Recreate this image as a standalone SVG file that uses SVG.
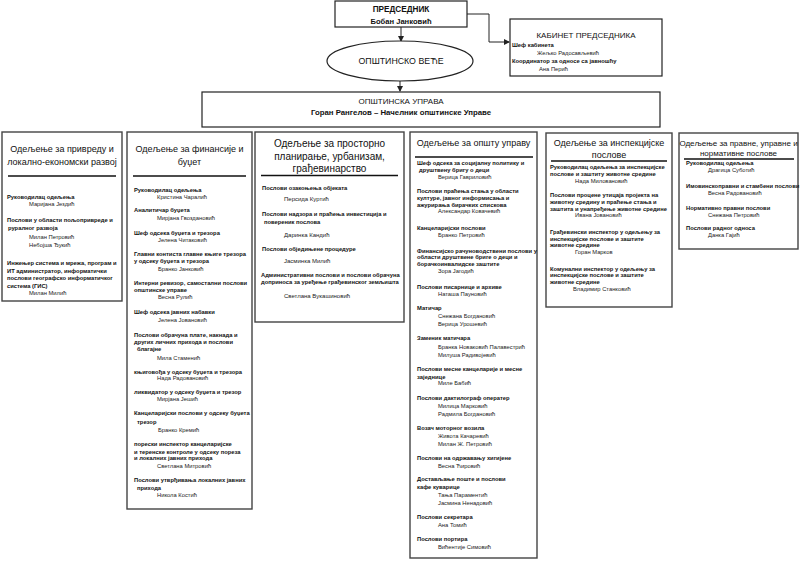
<svg xmlns="http://www.w3.org/2000/svg" width="800" height="561" viewBox="0 0 800 561">
<style>
text{font-family:"Liberation Sans",Arial,sans-serif;fill:#111}
.box{fill:#fff;stroke:#222;stroke-width:1.2}
.dept{fill:#fff;stroke:#444;stroke-width:1.4}
.sep{stroke:#111;stroke-width:1.5}
.t{font-size:9px;text-anchor:middle}
.t3{font-size:10px;text-anchor:middle}
.t6{font-size:8px;text-anchor:middle}
.b{font-size:5.8px;font-weight:bold}
.b6{font-size:5.8px;font-weight:bold}
.n{font-size:5.8px;fill:#222}
.n6{font-size:6px;fill:#222}
.conn{fill:none;stroke:#222;stroke-width:1}
</style>
<defs>
<marker id="arr" markerWidth="6" markerHeight="6" refX="5" refY="3" orient="auto" markerUnits="userSpaceOnUse">
<path d="M0,0 L6,3 L0,6 Z" fill="#222"/>
</marker>
</defs>
<rect width="800" height="561" fill="#fff"/>

<g id="connectors">
<line class="conn" x1="401" y1="27" x2="401" y2="41" marker-end="url(#arr)"/>
<polyline class="conn" points="467,14 489,14 489,42 509,42" marker-end="url(#arr)"/>
<line class="conn" x1="400" y1="81" x2="400" y2="91" marker-end="url(#arr)"/>
</g>

<g id="predsednik">
<rect class="box" x="335" y="1" width="132" height="26"/>
<text x="401" y="12" style="font-size:8.2px;font-weight:bold;text-anchor:middle">ПРЕДСЕДНИК</text>
<text x="401" y="24" style="font-size:7.6px;font-weight:bold;text-anchor:middle">Бобан Јанковић</text>
</g>

<g id="kabinet">
<rect class="box" x="510" y="19" width="152" height="57"/>
<text x="586" y="38" style="font-size:8px;text-anchor:middle">КАБИНЕТ ПРЕДСЕДНИКА</text>
<text class="b" x="512" y="47">Шеф кабинета</text>
<text class="n" x="537" y="55">Жељко Радосављевић</text>
<text class="b" x="512" y="63">Координатор за односе са јавношћу</text>
<text class="n" x="539" y="71">Ана Перић</text>
</g>

<g id="vece">
<ellipse cx="400" cy="61" rx="73" ry="20" fill="#fff" stroke="#222" stroke-width="1.2"/>
<text x="401" y="64" style="font-size:8.8px;text-anchor:middle">ОПШТИНСКО  ВЕЋЕ</text>
</g>

<g id="uprava">
<rect class="box" x="202" y="92" width="458" height="35"/>
<text x="401" y="104" style="font-size:8px;text-anchor:middle">ОПШТИНСКА УПРАВА</text>
<text x="401" y="115" style="font-size:7.8px;font-weight:bold;text-anchor:middle">Горан Рангелов – Начелник општинске Управе</text>
</g>

<g id="dept-privreda">
<rect class="dept" x="2" y="132" width="120" height="169"/>
<text class="t" x="62" y="152">Одељење за привреду и</text>
<text class="t" x="62" y="165">локално-економски развој</text>
<line class="sep" x1="8" y1="176" x2="116" y2="176"/>
<text class="b" x="7" y="199">Руководилац одељења</text>
<text class="n" x="29" y="206">Маријана Јездић</text>
<text class="b" x="7" y="222">Послови у области пољопривреде и</text>
<text class="b" x="8" y="230">руралног развоја</text>
<text class="n" x="29" y="239">Милан Петровић</text>
<text class="n" x="29" y="247">Небојша Ђукић</text>
<text class="b" x="7" y="265">Инжењер система и мрежа, програм и</text>
<text class="b" x="7" y="273">ИТ администратор, информатички</text>
<text class="b" x="7" y="280">послови географско информатичког</text>
<text class="b" x="7" y="288">система (ГИС)</text>
<text class="n" x="29" y="295">Милан Милић</text>
</g>

<g id="dept-finansije">
<rect class="dept" x="127" y="132" width="125" height="377"/>
<text class="t" x="189.5" y="152">Одељење за финансије и</text>
<text class="t" x="189.5" y="165">буџет</text>
<line class="sep" x1="133" y1="176" x2="246" y2="176"/>
<text class="b" x="134" y="192">Руководилац одељења</text>
<text class="n" x="157" y="199">Кристина Чаралић</text>
<text class="b" x="134" y="212">Аналитичар буџета</text>
<text class="n" x="157" y="220">Мирјана Гвоздановић</text>
<text class="b" x="134" y="235">Шеф одсека буџета и трезора</text>
<text class="n" x="158" y="242">Јелена Читаковић</text>
<text class="b" x="134" y="256">Главни контиста главне књиге трезора</text>
<text class="b" x="134" y="263">у одсеку буџета и трезора</text>
<text class="n" x="158" y="271">Бранко Јанковић</text>
<text class="b" x="134" y="285">Интерни ревизор, самостални послови</text>
<text class="b" x="134" y="292">општинске управе</text>
<text class="n" x="158" y="299">Весна Рулић</text>
<text class="b" x="134" y="314">Шеф одсека јавних набавки</text>
<text class="n" x="158" y="322">Јелена Јовановић</text>
<text class="b" x="134" y="337">Послови обрачуна плате, накнада и</text>
<text class="b" x="134" y="344">других личних прихода и послови</text>
<text class="b" x="137" y="351">благајне</text>
<text class="n" x="157" y="360">Мила Стаменић</text>
<text class="b" x="134" y="374">књиговођа у одсеку буџета и трезора</text>
<text class="n" x="157" y="380">Нада Радовановић</text>
<text class="b" x="134" y="394">ликвидатор у одсеку буџета и трезор</text>
<text class="n" x="157" y="401">Мирјана Јешић</text>
<text class="b" x="134" y="415">Канцеларијски послови у одсеку буџета</text>
<text class="b" x="137" y="424">трезор</text>
<text class="n" x="158" y="432">Бранко Кремић</text>
<text class="b" x="134" y="446">порески инспектор канцеларијске</text>
<text class="b" x="134" y="454">и теренске контроле у одсеку пореза</text>
<text class="b" x="134" y="460">и локалних јавних прихода</text>
<text class="n" x="157" y="468">Светлана Митровић</text>
<text class="b" x="134" y="482">Послови утврђивања локалних јавних</text>
<text class="b" x="137" y="490">прихода</text>
<text class="n" x="157" y="497">Никола Костић</text>
</g>

<g id="dept-planiranje">
<rect class="dept" x="255" y="132" width="149" height="190"/>
<text class="t3" x="329.5" y="146.5">Одељење за просторно</text>
<text class="t3" x="329.5" y="159.5">планирање, урбанизам,</text>
<text class="t3" x="329.5" y="171.5">грађевинарство</text>
<line class="sep" x1="261" y1="175.5" x2="398" y2="175.5"/>
<text class="b6" x="262" y="190">Послови озакоњења објеката</text>
<text class="n6" x="284" y="201">Персида Куртић</text>
<text class="b6" x="262" y="216">Послови надзора и праћења инвестиција и</text>
<text class="b6" x="264" y="224">повереник послова</text>
<text class="n6" x="284" y="237">Даринка Кандић</text>
<text class="b6" x="262" y="251">Послови обједињене процедуре</text>
<text class="n6" x="284" y="263">Јасминка Милић</text>
<text class="b6" x="261" y="277">Административни послови и послови обрачуна</text>
<text class="b6" x="261" y="284">доприноса за уређење грађевинског земљишта</text>
<text class="n6" x="284" y="298">Светлана Вукашиновић</text>
</g>

<g id="dept-opsta">
<rect class="dept" x="410" y="132" width="127" height="426"/>
<text class="t" x="473.5" y="146">Одељење за општу управу</text>
<line class="sep" x1="415" y1="157" x2="533" y2="157"/>
<text class="b" x="417" y="165">Шеф одсека за социјалну политику и</text>
<text class="b" x="419" y="172">друштвену бригу о деци</text>
<text class="n" x="438" y="179">Верица Гавриловић</text>
<text class="b" x="417" y="193">Послови праћења стања у области</text>
<text class="b" x="417" y="200">културе, јавног информисања и</text>
<text class="b" x="417" y="207">ажурирања бирачких спискова</text>
<text class="n" x="438" y="213">Александар Ковачевић</text>
<text class="b" x="417" y="230">Канцеларијски послови</text>
<text class="n" x="438" y="237">Бранко Петровић</text>
<text class="b" x="417" y="253">Финансијско рачуноводствени послови у</text>
<text class="b" x="417" y="259">области друштвене бриге о деци и</text>
<text class="b" x="417" y="266">борачкоинвалидске заштите</text>
<text class="n" x="438" y="273">Зора Јагодић</text>
<text class="b" x="417" y="289">Послови писарнице и архиве</text>
<text class="n" x="438" y="296">Наташа Пауновић</text>
<text class="b" x="417" y="310">Матичар</text>
<text class="n" x="438" y="318">Снежана Богдановић</text>
<text class="n" x="438" y="326">Верица Урошевић</text>
<text class="b" x="417" y="340">Заменик  матичара</text>
<text class="n" x="438" y="349">Бранка Новаковић Палавестрић</text>
<text class="n" x="438" y="357">Милуша Радивојевић</text>
<text class="b" x="417" y="371">Послови месне канцеларије и месне</text>
<text class="b" x="417" y="379">заједнице</text>
<text class="n" x="438" y="385">Миле Бабић</text>
<text class="b" x="417" y="400">Послови дактилограф  оператер</text>
<text class="n" x="438" y="408">Милица Марковић</text>
<text class="n" x="438" y="416">Радмила Богдановић</text>
<text class="b" x="417" y="430">Возач моторног возила</text>
<text class="n" x="438" y="438">Живота Качаревић</text>
<text class="n" x="438" y="446">Милан Ж. Петровић</text>
<text class="b" x="417" y="460">Послови на одржавању хигијене</text>
<text class="n" x="438" y="468">Весна Ћировић</text>
<text class="b" x="417" y="481">Достављање поште и послови</text>
<text class="b" x="417" y="489">кафе куварице</text>
<text class="n" x="438" y="497">Тања Параментић</text>
<text class="n" x="438" y="505">Јасмина Ненадовић</text>
<text class="b" x="417" y="519">Послови секретара</text>
<text class="n" x="438" y="527">Ана Томић</text>
<text class="b" x="417" y="541">Послови портира</text>
<text class="n" x="438" y="549">Вићентије Симовић</text>
</g>

<g id="dept-inspekcija">
<rect class="dept" x="546" y="133" width="126" height="174"/>
<text class="t" x="609" y="146">Одељење за инспекцијске</text>
<text class="t" x="609" y="158">послове</text>
<line class="sep" x1="551" y1="161" x2="667" y2="161"/>
<text class="b" x="550" y="169">Руководилац одељења за инспекцијске</text>
<text class="b" x="550" y="176">послове и заштиту животне средине</text>
<text class="n" x="575" y="183">Нада Миловановић</text>
<text class="b" x="550" y="197">Послови процене утицаја пројекта на</text>
<text class="b" x="550" y="204">животну средину и праћење стања и</text>
<text class="b" x="550" y="211">заштита и унапређење животне средине</text>
<text class="n" x="575" y="217">Ивана Јовановић</text>
<text class="b" x="550" y="234">Грађевински инспектор у одељењу за</text>
<text class="b" x="550" y="241">инспекцијске послове и заштите</text>
<text class="b" x="550" y="247">животне средине</text>
<text class="n" x="575" y="254">Горан Марков</text>
<text class="b" x="550" y="271">Комунални инспектор у одељењу за</text>
<text class="b" x="550" y="277">инспекцијске послове и заштите</text>
<text class="b" x="550" y="284">животне средине</text>
<text class="n" x="573" y="291">Владимир Станковић</text>
</g>

<g id="dept-pravne">
<rect class="dept" x="679" y="133" width="119" height="116"/>
<text class="t6" x="738.5" y="145.5">Одељење за правне, управне и</text>
<text class="t6" x="738.5" y="155.5">нормативне послове</text>
<line class="sep" x1="684" y1="159" x2="794" y2="159"/>
<text class="b" x="686" y="165">Руководилац одељења</text>
<text class="n" x="708" y="172">Драгица Суботић</text>
<text class="b" x="686" y="188">Имовинскоправни и стамбени послови</text>
<text class="n" x="708" y="195">Весна Радовановић</text>
<text class="b" x="686" y="210">Нормативно правни послови</text>
<text class="n" x="708" y="217">Снежана Петровић</text>
<text class="b" x="686" y="230">Послови радног односа</text>
<text class="n" x="708" y="237">Данка Гајић</text>
</g>
</svg>
